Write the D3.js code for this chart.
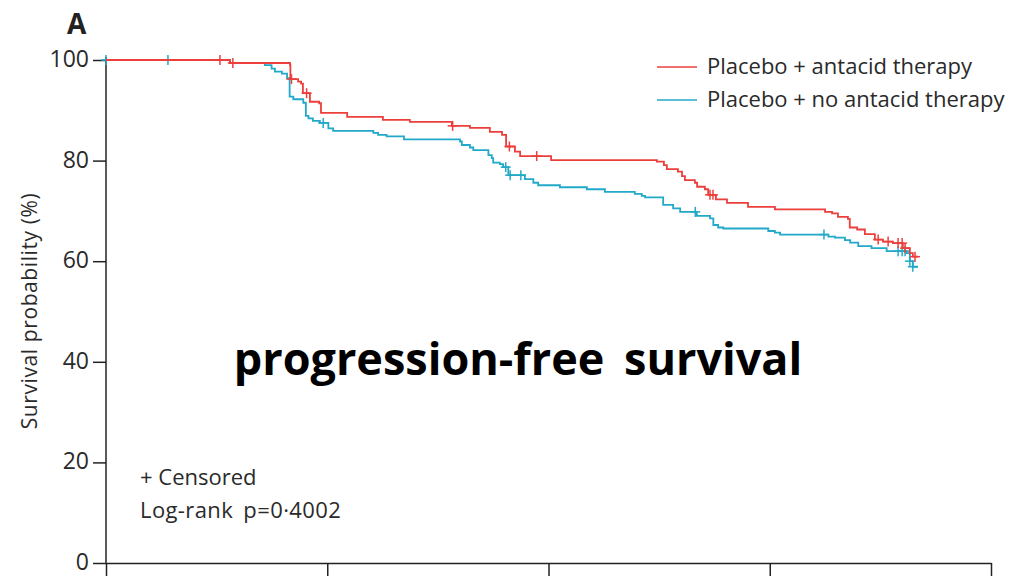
<!DOCTYPE html>
<html>
<head>
<meta charset="utf-8">
<script src="https://cdn.jsdelivr.net/npm/d3@7"></script>
<style>
  body { margin: 0; background: #fff; }
  text { font-family: "Open Sans", "Noto Sans", sans-serif; }
</style>
</head>
<body>
<div id="wrapper"></div>
<script>
// series: step times (months) and survival (%) after each step
const seriesNames = ["Placebo + antacid therapy", "Placebo + no antacid therapy"]
const seriesColors = ["#ec3f3c", "#22a9c9"]

const redTimes = [0, 3.36, 4.99, 5.00, 5.21, 5.29, 5.34, 5.53, 5.78, 5.83, 6.54, 7.51, 8.24, 9.38, 9.87, 10.41, 10.74, 10.85, 11.09, 11.23, 12.07, 14.94, 15.13, 15.21, 15.51, 15.62, 15.70, 15.97, 16.03, 16.24, 16.33, 16.54, 16.84, 17.41, 18.14, 19.50, 19.69, 19.85, 20.12, 20.17, 20.37, 20.58, 20.85, 21.07, 21.34, 21.61, 21.80, 21.88]
const redSurv = [100, 99.4, 99.0, 96.2, 95.7, 95.3, 93.4, 91.7, 91.4, 89.5, 88.7, 88.1, 87.7, 86.9, 86.5, 85.7, 85.1, 82.8, 81.8, 80.9, 80.1, 79.8, 79.1, 78.3, 77.8, 76.9, 76.1, 75.6, 74.8, 74.3, 73.2, 72.3, 71.6, 70.8, 70.3, 69.8, 69.5, 68.8, 68.4, 66.7, 66.3, 65.4, 64.3, 63.9, 63.6, 62.6, 61.6, 60.9]
const redCensored = [3.09, 3.44, 5.03, 5.44, 9.40, 10.94, 11.68, 16.38, 16.46, 20.94, 21.21, 21.48, 21.59, 21.67, 21.94]

const blueTimes = [0, 3.36, 4.31, 4.49, 4.58, 4.77, 4.91, 4.98, 5.08, 5.35, 5.42, 5.49, 5.61, 5.80, 6.03, 6.16, 7.25, 7.38, 7.61, 8.08, 9.60, 9.65, 9.87, 9.96, 10.37, 10.46, 10.50, 10.68, 10.77, 10.91, 11.36, 11.59, 11.72, 12.31, 13.04, 13.53, 14.34, 14.53, 14.62, 15.11, 15.38, 15.57, 16.02, 16.38, 16.47, 16.60, 16.74, 17.96, 18.14, 18.28, 19.59, 19.77, 20.04, 20.18, 20.40, 20.76, 21.17, 21.71, 21.80, 21.88]
const blueSurv = [100, 99.4, 99.0, 98.3, 97.7, 97.3, 96.4, 92.7, 92.2, 91.5, 88.9, 88.4, 87.9, 87.5, 86.4, 85.9, 85.5, 85.1, 84.8, 84.2, 83.8, 83.1, 82.6, 82.1, 81.1, 80.5, 79.6, 79.3, 78.7, 77.1, 76.3, 75.6, 75.1, 74.7, 74.3, 73.8, 73.4, 73.0, 72.7, 71.2, 70.5, 69.8, 69.0, 68.5, 67.2, 66.7, 66.5, 66.0, 65.7, 65.3, 64.9, 64.7, 64.2, 63.7, 63.0, 62.6, 62.0, 61.6, 60.0, 58.9]
const blueCensored = [0, 1.68, 5.89, 10.84, 10.96, 11.25, 15.98, 19.47, 21.48, 21.59, 21.67, 21.80, 21.88]

const followUpEnd = 22.02
const xTicks = [0, 6, 12, 18, 24]
const yTicks = [0, 20, 40, 60, 80, 100]

function drawChart() {
  const dimensions = {
    width: 1015,
    height: 576,
    margin: { top: 60, right: 24, bottom: 13, left: 106 },
  }

  const svg = d3.select("#wrapper")
    .append("svg")
      .attr("width", dimensions.width)
      .attr("height", dimensions.height)

  const bounds = svg.append("g")
      .attr("transform", `translate(${dimensions.margin.left}, ${dimensions.margin.top})`)

  const xScale = d3.scaleLinear()
    .domain([0, 24])
    .range([0, 885])

  const yScale = d3.scaleLinear()
    .domain([0, 100])
    .range([503, 0])

  // axes
  const yAxis = bounds.append("g")
    .call(d3.axisLeft(yScale).tickValues(yTicks).tickSize(13).tickSizeOuter(0).tickPadding(4))
  yAxis.select(".domain").attr("stroke", "#222").attr("stroke-width", 1.5)
    .attr("d", `M0,${yScale(100.6)}V${yScale(0)}`)
  yAxis.selectAll(".tick line").attr("stroke", "#222").attr("stroke-width", 1.5)
  yAxis.selectAll(".tick text")
    .attr("fill", "#2a2a2a")
    .style("font-size", "23px")
    .attr("dy", "0.28em")

  const xAxis = bounds.append("g")
    .attr("transform", `translate(0, ${yScale(0)})`)
    .call(d3.axisBottom(xScale).tickValues(xTicks).tickSize(14).tickSizeOuter(0).tickFormat(""))
  xAxis.select(".domain").attr("stroke", "#222").attr("stroke-width", 1.5)
  xAxis.selectAll(".tick line").attr("stroke", "#222").attr("stroke-width", 1.5)

  // curves
  const series = [
    { name: seriesNames[0], color: seriesColors[0], times: redTimes, surv: redSurv, cens: redCensored },
    { name: seriesNames[1], color: seriesColors[1], times: blueTimes, surv: blueSurv, cens: blueCensored },
  ]

  const lineGen = d3.line()
    .x(d => xScale(d[0]))
    .y(d => yScale(d[1]))
    .curve(d3.curveStepAfter)

  function survAt(s, t) {
    let v = s.surv[0]
    s.times.forEach((ti, i) => { if (ti <= t) v = s.surv[i] })
    return v
  }

  // draw blue first so red is on top like the reference
  series.slice().reverse().forEach(s => {
    const pts = s.times.map((t, i) => [t, s.surv[i]])
    pts.push([followUpEnd, s.surv[s.surv.length - 1]])
    bounds.append("path")
      .attr("d", lineGen(pts))
      .attr("fill", "none")
      .attr("stroke", s.color)
      .attr("stroke-width", 1.8)

    const cross = 5
    const marks = bounds.append("g").selectAll("g")
      .data(s.cens)
      .enter().append("g")
        .attr("transform", t => `translate(${xScale(t)}, ${yScale(survAt(s, t))})`)
    marks.append("line")
      .attr("x1", -cross).attr("x2", cross)
      .attr("stroke", s.color).attr("stroke-width", 1.5)
    marks.append("line")
      .attr("y1", -cross).attr("y2", cross)
      .attr("stroke", s.color).attr("stroke-width", 1.5)
  })

  // legend
  const legend = svg.append("g").attr("transform", "translate(657, 67)")
  series.forEach((s, i) => {
    const row = legend.append("g").attr("transform", `translate(0, ${i * 33})`)
    row.append("line").attr("x1", 0).attr("x2", 40)
      .attr("stroke", s.color).attr("stroke-width", 1.5)
    row.append("text").attr("x", 50).attr("y", 0).attr("dy", "0.34em")
      .attr("fill", "#2a2a2a")
      .style("font-size", "22px")
      .text(s.name)
  })

  // annotations
  svg.append("text")
    .attr("x", 67).attr("y", 34)
    .attr("fill", "#222")
    .style("font-size", "28px")
    .style("font-weight", "700")
    .text("A")

  svg.append("text")
    .attr("transform", "translate(37, 311) rotate(-90)")
    .attr("text-anchor", "middle")
    .attr("fill", "#2a2a2a")
    .style("font-size", "21px")
    .style("letter-spacing", "0.6px")
    .text("Survival probability (%)")

  svg.append("text")
    .attr("x", 140).attr("y", 485)
    .attr("fill", "#2a2a2a")
    .style("font-size", "22px")
    .text("+ Censored")

  svg.append("text")
    .attr("x", 140).attr("y", 518)
    .attr("fill", "#2a2a2a")
    .style("font-size", "22px")
    .style("letter-spacing", "0.4px")
    .style("word-spacing", "4px")
    .text("Log-rank p=0·4002")

  svg.append("text")
    .attr("x", 518).attr("y", 375)
    .attr("text-anchor", "middle")
    .attr("fill", "#000")
    .style("font-size", "45px")
    .style("font-weight", "700")
    .style("word-spacing", "8px")
    .text("progression-free survival")
}

drawChart()
</script>
</body>
</html>
